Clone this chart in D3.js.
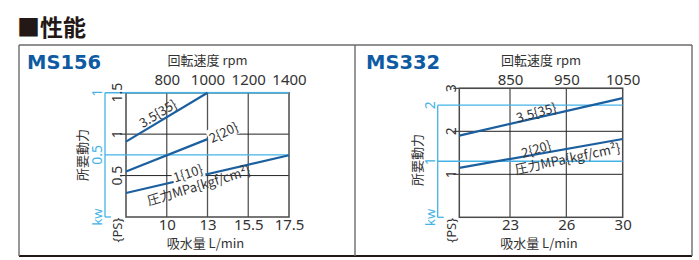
<!DOCTYPE html>
<html>
<head>
<meta charset="utf-8">
<script src="https://cdn.jsdelivr.net/npm/d3@7"></script>
<style>
  body { margin: 0; background: #fff; }
  text { font-family: "Noto Sans CJK JP", "Noto Sans", sans-serif; fill: #333; }
</style>
</head>
<body>
<svg id="chart" width="699" height="260"></svg>
<script>
// MS156 data
var ms156Rpm = [800, 1000, 1200, 1400];
var ms156Flow = ["10", "13", "15.5", "17.5"];
var ms156PsTicks = [0.5, 1, 1.5];
var ms156KwTicks = [0.5, 1];
var ms156Pressure = ["3.5{35}", "2{20}", "1{10}"];
var ms156LineRpm = [[600, 1000], [600, 1000], [600, 1400]];
var ms156LinePs = [[0.91, 1.5], [0.55, 0.94], [0.29, 0.745]];

// MS332 data
var ms332Rpm = [850, 950, 1050];
var ms332Flow = ["23", "26", "30"];
var ms332PsTicks = [1, 2, 3];
var ms332KwTicks = [1, 2];
var ms332Pressure = ["3.5{35}", "2{20}"];
var ms332LineRpm = [[760, 1050], [760, 1050]];
var ms332LinePs = [[1.9, 2.77], [1.15, 1.82]];

var lineBlue = "#1b5f9f";
var skyBlue = "#45b3e7";

function init() {
    var svg = d3.select("#chart");

    //page heading
    svg.append("text")
        .attr("x", 17).attr("y", 36)
        .style("font-size", "23px").style("font-weight", "bold")
        .style("fill", "#231815")
        .text("■性能");

    //panel borders
    svg.append("line").attr("x1", 19).attr("x2", 692).attr("y1", 45).attr("y2", 45)
        .attr("stroke", "#6b6b6b").attr("stroke-width", 1.6);
    svg.append("line").attr("x1", 19).attr("x2", 692).attr("y1", 256).attr("y2", 256)
        .attr("stroke", "#231815").attr("stroke-width", 2);
    [19, 355, 692].forEach(function (x) {
        svg.append("line").attr("x1", x).attr("x2", x).attr("y1", 45).attr("y2", 256)
            .attr("stroke", "#6b6b6b").attr("stroke-width", 1.4);
    });

    drawPanel(svg, {
        name: "MS156", nameX: 27,
        left: 126, right: 289, top: 92.7, bottom: 217,
        rpmDomain: [600, 1400], psDomain: [0, 1.5], kwDomain: [0, 1],
        rpm: ms156Rpm, flow: ms156Flow, psTicks: ms156PsTicks, kwTicks: ms156KwTicks,
        pressure: ms156Pressure, lineRpm: ms156LineRpm, linePs: ms156LinePs,
        kwAxisX: 105, psLabelX: 117, kwLabelX: 97, yTitleX: 82, yTitleY: 155,
        // where each pressure label sits: fraction along line, offset, angle, white box
        labels: [
            {f: 0.44, off: -3, angle: -31, box: false},
            {f: 1.2, off: 4.5, angle: -26, box: true},
            {f: 0.39, off: -0.5, angle: -18, box: true}
        ],
        unitLabel: {f: 0.43, off: 14, angle: -17, line: 2}
    });

    drawPanel(svg, {
        name: "MS332", nameX: 366,
        left: 459.3, right: 622.7, top: 88.3, bottom: 217.3,
        rpmDomain: [760, 1050], psDomain: [0, 3], kwDomain: [0, 2.3],
        rpm: ms332Rpm, flow: ms332Flow, psTicks: ms332PsTicks, kwTicks: ms332KwTicks,
        pressure: ms332Pressure, lineRpm: ms332LineRpm, linePs: ms332LinePs,
        kwAxisX: 437.7, psLabelX: 451, kwLabelX: 430, yTitleX: 417, yTitleY: 160,
        labels: [
            {f: 0.48, off: -0.5, angle: -16, box: false},
            {f: 0.48, off: -0.5, angle: -17, box: false}
        ],
        unitLabel: {f: 0.65, off: 14.5, angle: -12, line: 1}
    });
}

function drawPanel(svg, c) {
    var g = svg.append("g");

    //scales: rpm on x, PS and kW on y
    var xScale = d3.scaleLinear().domain(c.rpmDomain).range([c.left, c.right]);
    var yScale = d3.scaleLinear().domain(c.psDomain).range([c.bottom, c.top]);
    var kwScale = d3.scaleLinear().domain(c.kwDomain).range([c.bottom, c.top]);

    //model name
    g.append("text")
        .attr("x", c.nameX).attr("y", 69)
        .style("font-family", "'DejaVu Sans', sans-serif")
        .style("font-size", "19.5px").style("font-weight", "bold")
        .style("fill", "#0e5ba3")
        .text(c.name);

    //axis titles
    var midX = (c.left + c.right) / 2;
    g.append("text")
        .attr("x", midX).attr("y", 64.5)
        .attr("text-anchor", "middle")
        .style("font-size", "13px")
        .text("回転速度 rpm");
    g.append("text")
        .attr("x", midX - 2).attr("y", 248)
        .attr("text-anchor", "middle")
        .style("font-size", "13px")
        .text("吸水量 L/min");
    g.append("text")
        .attr("transform", "translate(" + c.yTitleX + "," + c.yTitleY + ") rotate(-90)")
        .attr("text-anchor", "middle").attr("dy", "0.35em")
        .style("font-size", "13px")
        .text("所要動力");

    //top axis rpm
    var topAxis = g.append("g")
        .attr("transform", "translate(0,85)")
        .call(d3.axisTop(xScale).tickValues(c.rpm).tickSize(0).tickPadding(0)
            .tickFormat(d3.format("d")));
    topAxis.select(".domain").remove();
    topAxis.selectAll("text").style("font-size", "15px").style("fill", "#333")
        .style("font-family", "'Noto Sans', sans-serif");

    //bottom axis flow labels at the same positions
    var bottomAxis = g.append("g")
        .attr("transform", "translate(0," + c.bottom + ")")
        .call(d3.axisBottom(xScale).tickValues(c.rpm).tickSize(0).tickPadding(2)
            .tickFormat(function (d, i) { return c.flow[i]; }));
    bottomAxis.select(".domain").remove();
    bottomAxis.selectAll("text").style("font-size", "15px").style("fill", "#333")
        .style("font-family", "'Noto Sans', sans-serif");

    //vertical grid
    g.selectAll(".vgrid")
        .data(c.rpm.slice(0, -1))
        .enter().append("line")
        .attr("x1", function (d) { return xScale(d); })
        .attr("x2", function (d) { return xScale(d); })
        .attr("y1", c.top).attr("y2", c.bottom)
        .attr("stroke", "#555").attr("stroke-width", 1.3);

    //black horizontal grid at PS ticks
    g.selectAll(".hgrid")
        .data(c.psTicks)
        .enter().append("line")
        .attr("x1", c.left - 6).attr("x2", c.right)
        .attr("y1", function (d) { return yScale(d); })
        .attr("y2", function (d) { return yScale(d); })
        .attr("stroke", "#222").attr("stroke-width", 1);

    //plot frame
    g.append("rect")
        .attr("x", c.left).attr("y", c.top)
        .attr("width", c.right - c.left).attr("height", c.bottom - c.top)
        .attr("fill", "none").attr("stroke", "#4a4a4a").attr("stroke-width", 1.5);

    //kW blue axis and lines
    var kwMax = d3.max(c.kwTicks);
    g.append("line")
        .attr("x1", c.kwAxisX).attr("x2", c.kwAxisX)
        .attr("y1", kwScale(0)).attr("y2", kwScale(kwMax))
        .attr("stroke", skyBlue).attr("stroke-width", 1.3);
    g.append("line")
        .attr("x1", c.kwAxisX).attr("x2", c.kwAxisX + 6)
        .attr("y1", kwScale(0)).attr("y2", kwScale(0))
        .attr("stroke", skyBlue).attr("stroke-width", 1.3);
    g.selectAll(".kwline")
        .data(c.kwTicks)
        .enter().append("line")
        .attr("x1", c.kwAxisX).attr("x2", c.right)
        .attr("y1", function (d) { return kwScale(d); })
        .attr("y2", function (d) { return kwScale(d); })
        .attr("stroke", skyBlue).attr("stroke-width", 1.4);

    //PS tick labels
    g.selectAll(".pslab")
        .data(c.psTicks)
        .enter().append("text")
        .attr("transform", function (d) {
            return "translate(" + c.psLabelX + "," + yScale(d) + ") rotate(-90)";
        })
        .attr("text-anchor", "middle").attr("dy", "0.35em")
        .style("font-size", "14px").style("font-family", "'Noto Sans', sans-serif")
        .text(function (d) { return d; });
    g.append("text")
        .attr("transform", "translate(" + c.psLabelX + "," + (c.bottom + 13) + ") rotate(-90)")
        .attr("text-anchor", "middle").attr("dy", "0.35em")
        .style("font-size", "13px").style("font-family", "'Noto Sans', sans-serif")
        .text("{PS}");

    //kW tick labels
    g.selectAll(".kwlab")
        .data(c.kwTicks)
        .enter().append("text")
        .attr("transform", function (d) {
            return "translate(" + c.kwLabelX + "," + kwScale(d) + ") rotate(-90)";
        })
        .attr("text-anchor", "middle").attr("dy", "0.35em")
        .style("font-size", "14px").style("font-family", "'Noto Sans', sans-serif")
        .style("fill", skyBlue)
        .text(function (d) { return d; });
    g.append("text")
        .attr("transform", "translate(" + c.kwLabelX + "," + kwScale(0) + ") rotate(-90)")
        .attr("text-anchor", "middle").attr("dy", "0.35em")
        .style("font-size", "13px").style("font-family", "'Noto Sans', sans-serif")
        .style("fill", skyBlue)
        .text("kw");

    //pressure lines
    var line = d3.line()
        .x(function (d) { return xScale(d[0]); })
        .y(function (d) { return yScale(d[1]); });
    var curves = c.pressure.map(function (p, i) {
        return d3.zip(c.lineRpm[i], c.linePs[i]);
    });
    g.selectAll(".curve")
        .data(curves)
        .enter().append("path")
        .attr("d", line)
        .attr("fill", "none")
        .attr("stroke", lineBlue).attr("stroke-width", 2.2);

    //point along a curve (fraction of its rpm span)
    function along(i, f) {
        var r = c.lineRpm[i], p = c.linePs[i];
        var rpm = r[0] + (r[1] - r[0]) * f;
        var ps = p[0] + (p[1] - p[0]) * f;
        return [xScale(rpm), yScale(ps)];
    }

    function label(i, spec, txt) {
        var pt = along(i, spec.f);
        var lg = g.append("g")
            .attr("transform", "translate(" + pt[0] + "," + pt[1] + ") rotate(" + spec.angle + ")");
        var t = lg.append("text")
            .attr("y", spec.off)
            .attr("text-anchor", "middle")
            .style("font-size", "13px")
            .text(txt);
        if (spec.box) {
            var bb = t.node().getBBox();
            lg.insert("rect", "text")
                .attr("x", bb.x - 1).attr("y", bb.y + 1)
                .attr("width", bb.width + 2).attr("height", bb.height - 2)
                .attr("fill", "#fff");
        }
    }

    c.pressure.forEach(function (p, i) {
        label(i, c.labels[i], p);
    });
    label(c.unitLabel.line, c.unitLabel, "圧力MPa{kgf/cm²}");
}

window.onload = init;
</script>
</body>
</html>
